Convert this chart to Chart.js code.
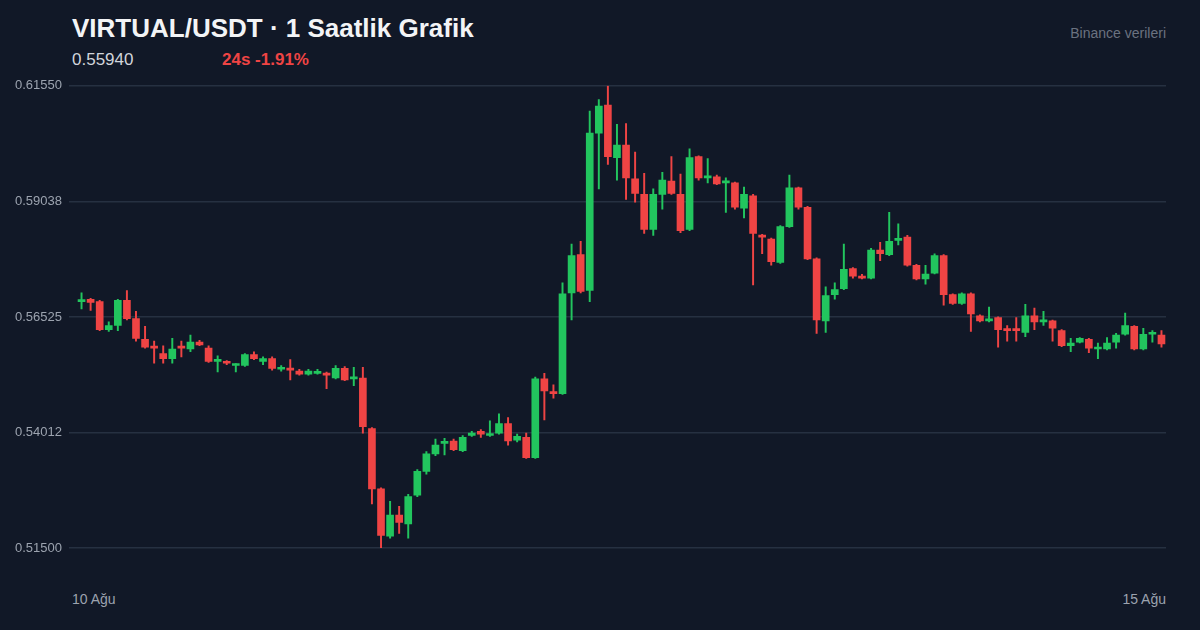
<!DOCTYPE html>
<html><head><meta charset="utf-8">
<script src="https://cdn.jsdelivr.net/npm/chart.js@4"></script>
<style>
body{margin:0;width:1200px;height:630px;background:#111827;font-family:"Liberation Sans",Arial,sans-serif;position:relative;overflow:hidden}
.t{position:absolute;white-space:nowrap}
#wrap{position:absolute;left:10px;top:72px;width:1156px;height:490px}
</style></head><body>
<div class="t" style="left:72px;top:13px;font-size:26px;font-weight:bold;color:#f3f4f6">VIRTUAL/USDT · 1 Saatlik Grafik</div>
<div class="t" style="left:72px;top:50px;font-size:17px;color:#d1d5db">0.55940</div>
<div class="t" style="left:222px;top:50px;font-size:17px;font-weight:bold;color:#ef4444">24s -1.91%</div>
<div class="t" style="right:34px;top:25px;font-size:14px;color:#6b7280">Binance verileri</div>
<div class="t" style="left:72px;top:591px;font-size:14px;color:#9ca3af">10 Ağu</div>
<div class="t" style="right:34px;top:591px;font-size:14px;color:#9ca3af">15 Ağu</div>
<div id="wrap"><canvas id="c"></canvas></div>
<script>
const opens=[.5686,.5691,.5686,.5625,.5634,.5689,.5649,.5604,.5587,.5573,.5562,.5587,.5583,.5598,.5585,.5556,.5554,.5547,.5547,.5571,.5556,.5562,.5539,.5539,.5535,.5528,.5530,.5530,.5520,.5541,.5518,.5520,.5410,.5279,.5176,.5222,.5203,.5265,.5317,.5355,.5378,.5383,.5362,.5395,.5404,.5395,.5400,.5421,.5385,.5391,.5347,.5518,.5488,.5486,.5705,.5788,.5710,.6052,.6113,.5999,.6026,.5953,.5919,.5843,.5919,.5948,.5919,.5843,.6001,.5955,.5957,.5944,.5944,.5889,.5916,.5830,.5822,.5771,.5849,.5933,.5891,.5779,.5644,.5701,.5714,.5758,.5741,.5737,.5798,.5788,.5819,.5826,.5765,.5735,.5748,.5786,.5701,.5682,.5703,.5655,.5644,.5651,.5625,.5625,.5619,.5655,.5642,.5644,.5623,.5590,.5598,.5604,.5583,.5583,.5598,.5615,.5632,.5583,.5615,.5613];
const highs=[.5705,.5693,.5689,.5642,.5691,.5710,.5665,.5632,.5600,.5590,.5606,.5600,.5613,.5602,.5590,.5568,.5558,.5551,.5573,.5577,.5566,.5566,.5547,.5560,.5539,.5539,.5539,.5533,.5547,.5545,.5543,.5543,.5412,.5281,.5252,.5241,.5267,.5321,.5360,.5387,.5389,.5387,.5395,.5404,.5408,.5427,.5442,.5434,.5398,.5400,.5522,.5530,.5505,.5727,.5811,.5817,.6100,.6125,.6155,.6071,.6073,.6011,.5965,.5931,.5967,.6001,.5963,.6018,.6003,.5997,.5961,.5955,.5946,.5935,.5919,.5832,.5824,.5851,.5961,.5935,.5893,.5781,.5718,.5727,.5811,.5760,.5745,.5802,.5815,.5880,.5855,.5830,.5767,.5765,.5790,.5788,.5703,.5705,.5705,.5657,.5674,.5653,.5634,.5651,.5680,.5672,.5665,.5646,.5625,.5606,.5608,.5606,.5596,.5608,.5617,.5661,.5634,.5628,.5623,.5623];
const lows=[.5670,.5667,.5623,.5621,.5623,.5646,.5600,.5585,.5552,.5552,.5552,.5566,.5577,.5590,.5554,.5533,.5549,.5533,.5545,.5560,.5549,.5537,.5535,.5516,.5526,.5526,.5528,.5497,.5518,.5514,.5503,.5400,.5246,.5151,.5172,.5182,.5172,.5262,.5311,.5351,.5353,.5362,.5360,.5393,.5391,.5393,.5398,.5374,.5381,.5345,.5345,.5429,.5476,.5484,.5646,.5705,.5686,.5931,.5984,.5950,.5908,.5902,.5834,.5830,.5887,.5919,.5836,.5840,.5950,.5944,.5940,.5880,.5887,.5868,.5722,.5790,.5765,.5769,.5847,.5887,.5777,.5617,.5619,.5691,.5712,.5737,.5735,.5735,.5775,.5786,.5809,.5763,.5733,.5724,.5746,.5678,.5680,.5680,.5621,.5642,.5642,.5587,.5600,.5600,.5610,.5625,.5634,.5600,.5588,.5577,.5596,.5575,.5562,.5581,.5585,.5613,.5581,.5581,.5598,.5587];
const closes=[.5689,.5684,.5625,.5634,.5689,.5649,.5606,.5587,.5585,.5562,.5583,.5585,.5598,.5592,.5556,.5556,.5552,.5549,.5571,.5562,.5562,.5541,.5541,.5537,.5528,.5535,.5533,.5526,.5541,.5516,.5520,.5414,.5279,.5178,.5222,.5206,.5262,.5317,.5355,.5374,.5378,.5364,.5391,.5400,.5398,.5398,.5421,.5383,.5393,.5347,.5518,.5492,.5486,.5703,.5786,.5708,.6052,.6111,.6001,.6026,.5955,.5921,.5843,.5919,.5950,.5921,.5840,.5999,.5955,.5957,.5942,.5946,.5891,.5919,.5834,.5826,.5773,.5849,.5933,.5891,.5779,.5646,.5699,.5712,.5756,.5741,.5737,.5798,.5790,.5817,.5819,.5765,.5735,.5746,.5786,.5701,.5682,.5703,.5659,.5644,.5646,.5625,.5623,.5623,.5655,.5642,.5644,.5628,.5590,.5596,.5606,.5585,.5583,.5596,.5613,.5634,.5583,.5615,.5615,.5594];
const yTicks=[0.51500,0.54012,0.56525,0.59038,0.61550];
const labels=opens.map((_,i)=>'h'+i);
const col=opens.map((o,i)=>closes[i]>=o?'#22c55e':'#ef4444');
new Chart(document.getElementById('c'),{
 type:'bar',
 data:{labels,datasets:[
  {data:lows.map((l,i)=>[l,highs[i]]),backgroundColor:col,barThickness:1.3,grouped:false,order:2},
  {data:opens.map((o,i)=>[o,closes[i]]),backgroundColor:col,borderColor:col,borderWidth:0,barThickness:7,minBarLength:2,grouped:false,order:1}
 ]},
 options:{responsive:true,maintainAspectRatio:false,animation:false,
  layout:{padding:{top:10,bottom:4,left:5}},
  plugins:{legend:{display:false},tooltip:{enabled:false}},
  scales:{
   x:{display:false,offset:true},
   y:{min:0.515,max:0.6155,
    afterBuildTicks:s=>{s.ticks=yTicks.map(v=>({value:v}));},
    afterFit:s=>{s.width=62;},
    ticks:{color:'#9ca3af',font:{size:13,family:'Liberation Sans'},crossAlign:'far',padding:6,callback:v=>v.toFixed(5)},
    grid:{color:'#263041',lineWidth:1.5},border:{display:false}}
  }}
});
</script></body></html>
